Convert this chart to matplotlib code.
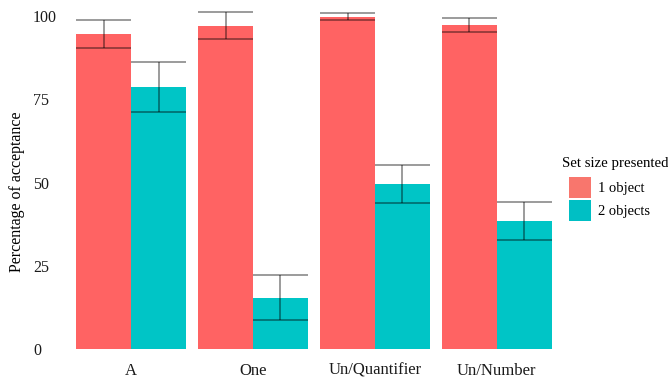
import matplotlib
matplotlib.use("Agg")
import matplotlib.pyplot as plt
from matplotlib.patches import Patch
import numpy as np

plt.rcParams["font.family"] = ["Liberation Serif", "DejaVu Serif"]
plt.rcParams["font.size"] = 11.5

conditions = ["A", "One", "Un/Quantifier", "Un/Number"]
set_sizes = ["1 object", "2 objects"]

# mean acceptance (%) and half-width of the error bar, per set size
mean_one = [94.6, 97.1, 99.8, 97.3]
err_one = [4.3, 4.0, 1.0, 2.1]
mean_two = [78.7, 15.4, 49.5, 38.4]
err_two = [7.4, 6.7, 5.8, 5.7]

bar_colors = ["#FF6363", "#00C5C6"]
key_colors = ["#F8766D", "#00BFC4"]


def main():
    fig = plt.figure(figsize=(6.68, 3.79), dpi=100)
    ax = fig.add_axes([58 / 668, 30 / 379, 512 / 668, 346.3 / 379])

    x = np.arange(len(conditions))
    width = 0.45
    offsets = [-width / 2, width / 2]
    means = [mean_one, mean_two]
    errs = [err_one, err_two]

    for k in range(2):
        xs = x + offsets[k]
        m = np.array(means[k])
        e = np.array(errs[k])
        ax.bar(xs, m, width=width, color=bar_colors[k], edgecolor="none", zorder=1)
        # error bars span the full width of each bar
        ax.hlines(m + e, xs - width / 2, xs + width / 2, color="black", alpha=0.5, lw=1.1, zorder=2)
        ax.hlines(m - e, xs - width / 2, xs + width / 2, color="black", alpha=0.5, lw=1.1, zorder=2)
        ax.vlines(xs, m - e, m + e, color="black", alpha=0.5, lw=1.1, zorder=2)

    ax.set_xlim(-0.6, len(conditions) - 1 + 0.6)
    ax.set_ylim(0, 104)
    ax.set_xticks(x)
    ax.set_xticklabels(conditions, fontsize=12)
    ax.set_yticks([0, 25, 50, 75, 100])
    ax.set_yticklabels(["0", "25", "50", "75", "100"], ha="left")
    ax.tick_params(axis="y", length=0, pad=18, colors="#1a1a1a")
    ax.tick_params(axis="x", length=0, pad=10, colors="#1a1a1a")
    for s in ax.spines.values():
        s.set_visible(False)

    fig.text(17 / 668, 1 - 192 / 379, "Percentage of acceptance", rotation=90,
             ha="center", va="center")

    # legend title sits a little left of the keys
    fig.text(562 / 668, 1 - 164 / 379, "Set size presented", fontsize=10.7,
             ha="left", va="center")
    handles = [Patch(facecolor=c, edgecolor="none") for c in key_colors]
    fig.legend(handles, set_sizes, fontsize=10.5,
               loc="upper left", bbox_to_anchor=(569 / 668, 1 - 177 / 379),
               frameon=False, borderpad=0, borderaxespad=0, handlelength=1.5,
               handleheight=1.85, labelspacing=0.1, handletextpad=0.5)

    fig.savefig("out.png", dpi=100)


if __name__ == "__main__":
    main()
